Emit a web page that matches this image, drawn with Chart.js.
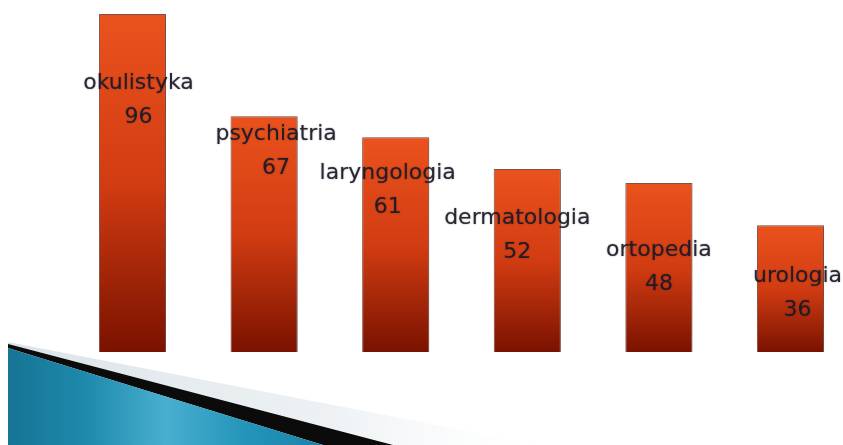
<!DOCTYPE html>
<html>
<head>
<meta charset="utf-8">
<script src="https://cdn.jsdelivr.net/npm/chart.js@4"></script>
<style>
  html, body { margin: 0; padding: 0; background: #fff; }
  #wrap { width: 843px; height: 445px; }
</style>
</head>
<body>
<div id="wrap"><canvas id="chart"></canvas></div>
<script>
// clinic departments and their counts
const categories = ['okulistyka', 'psychiatria', 'laryngologia', 'dermatologia', 'ortopedia', 'urologia'];
const values = [96, 67, 61, 52, 48, 36];

// where each label pair sits relative to its bar top (dx, dy of the name line)
const labelNudge = [[6, 69], [12, 18], [-8, 36], [-10, 49], [0, 67], [7, 51]];

// vertical gradient per bar, orange at the top to dark red at the base
function barFill(ctx) {
  const chart = ctx.chart;
  if (!chart.chartArea || ctx.dataIndex === undefined) return '#c83a12';
  const y = chart.scales.y;
  const top = y.getPixelForValue(values[ctx.dataIndex]);
  const bottom = y.getPixelForValue(0);
  const g = chart.ctx.createLinearGradient(0, top, 0, bottom);
  g.addColorStop(0, '#ea521d');
  g.addColorStop(0.5, '#d23c12');
  g.addColorStop(1, '#7a1200');
  return g;
}

// blue ribbon in the lower left corner
const swoosh = {
  id: 'swoosh',
  beforeDraw(chart) {
    const c = chart.ctx;
    c.save();
    // pale shadow band above the ribbon
    let g = c.createLinearGradient(8, 0, 540, 0);
    g.addColorStop(0, 'rgba(190,205,212,0.55)');
    g.addColorStop(0.6, 'rgba(210,220,226,0.4)');
    g.addColorStop(1, 'rgba(240,244,246,0)');
    c.fillStyle = g;
    c.beginPath();
    c.moveTo(8, 342); c.lineTo(540, 445); c.lineTo(390, 445); c.lineTo(8, 346);
    c.closePath(); c.fill();
    // black edge
    c.fillStyle = '#0b0b0b';
    c.beginPath();
    c.moveTo(8, 344); c.lineTo(393, 445); c.lineTo(323, 445); c.lineTo(8, 348);
    c.closePath(); c.fill();
    // blue body
    g = c.createLinearGradient(8, 0, 323, 0);
    g.addColorStop(0, '#167494');
    g.addColorStop(0.25, '#1e8aac');
    g.addColorStop(0.5, '#49afd0');
    g.addColorStop(0.75, '#2495b9');
    g.addColorStop(1, '#1983a7');
    c.fillStyle = g;
    c.beginPath();
    c.moveTo(8, 348); c.lineTo(323, 445); c.lineTo(8, 445);
    c.closePath(); c.fill();
    c.restore();
  }
};

// soft shadow behind the bars
const barShadow = {
  id: 'barShadow',
  beforeDatasetDraw(chart) {
    const c = chart.ctx;
    c.save();
    c.shadowColor = 'rgba(0,0,0,0.35)';
    c.shadowBlur = 4;
    c.shadowOffsetX = 1;
    c.shadowOffsetY = 1;
  },
  afterDatasetDraw(chart) {
    chart.ctx.restore();
  }
};

// name and value written over each bar
const barLabels = {
  id: 'barLabels',
  afterDatasetsDraw(chart) {
    const c = chart.ctx;
    const meta = chart.getDatasetMeta(0);
    c.save();
    c.font = '22px "DejaVu Sans"';
    c.textAlign = 'center';
    c.textBaseline = 'middle';
    c.fillStyle = 'rgba(28,26,38,0.9)';
    c.shadowColor = 'rgba(28,26,38,0.6)';
    c.shadowBlur = 1.5;
    meta.data.forEach((bar, i) => {
      const [dx, dy] = labelNudge[i];
      const x = bar.x + dx;
      const y = bar.y + dy;
      c.fillText(categories[i], x, y);
      c.fillText(String(values[i]), x, y + 34);
    });
    c.restore();
  }
};

new Chart(document.getElementById('chart'), {
  type: 'bar',
  data: {
    labels: categories,
    datasets: [{
      data: values,
      backgroundColor: barFill,
      borderColor: 'rgba(95,22,6,0.7)',
      borderWidth: 1,
      categoryPercentage: 1,
      barPercentage: 0.51,
      clip: false
    }]
  },
  options: {
    responsive: true,
    maintainAspectRatio: false,
    animation: false,
    layout: { padding: { left: 132.5, right: 52.5, top: 0, bottom: 93 } },
    plugins: {
      legend: { display: false },
      tooltip: { enabled: false }
    },
    scales: {
      x: { display: false, offset: false, grid: { display: false } },
      y: { display: false, min: 0, max: 100, grid: { display: false } }
    }
  },
  plugins: [swoosh, barShadow, barLabels]
});
</script>
</body>
</html>
